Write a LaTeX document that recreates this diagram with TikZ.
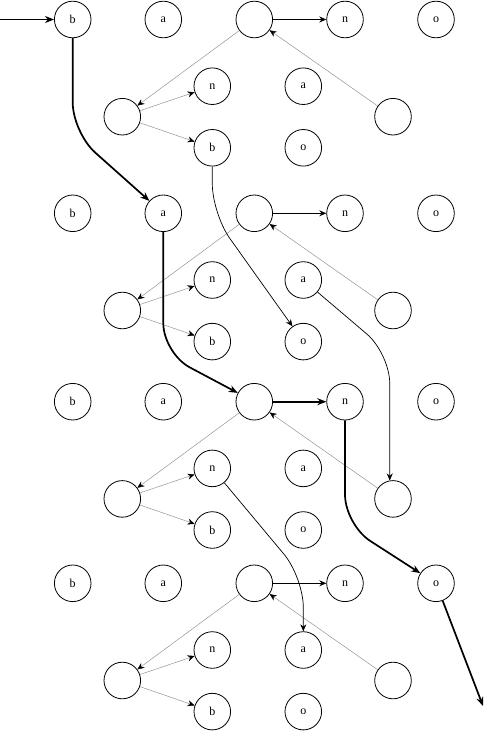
\documentclass[tikz,border=0pt]{standalone}
\usepackage{fontspec}
\setmainfont{Liberation Serif}
\usetikzlibrary{arrows.meta}

\begin{document}
\begin{tikzpicture}[
  x=1pt,y=-1pt,
  font=\fontsize{12}{14}\selectfont,
  >={Stealth[length=7pt,width=6pt]},
  state/.style={circle, draw=black, line width=0.8pt, minimum size=36.6pt, inner sep=0pt},
  link/.style={->, draw=black!45, line width=0.45pt, -{Stealth[length=7pt,width=6pt,black]}},
  hop/.style={->, draw=black, line width=0.9pt},
  walk/.style={draw=black, line width=0.7pt, rounded corners=30pt, -{Stealth[length=7pt,width=6pt]}},
  mainpath/.style={draw=black, line width=1.7pt, rounded corners=30pt, -{Stealth[length=9pt,width=7pt]}}
]
  \useasboundingbox (0,0) rectangle (487,731);

  % four copies of the same automaton
  \foreach \l/\y in {1/19.5, 2/213.3, 3/401.7, 4/583.3} {
    \node[state] (b\l) at (72.7,\y) {b};
    \node[state] (a\l) at (163.3,\y) {a};
    \node[state] (h\l) at (254.3,\y) {};
    \node[state] (n\l) at (345,\y) {n};
    \node[state] (o\l) at (436,\y) {o};
    \node[state] (nn\l) at (212.3,\y+66.7) {n};
    \node[state] (aa\l) at (303.3,\y+66.7) {a};
    \node[state] (l\l) at (122.3,\y+97.2) {};
    \node[state] (r\l) at (393,\y+97.2) {};
    \node[state] (bb\l) at (212.3,\y+128.3) {b};
    \node[state] (oo\l) at (303.3,\y+128.3) {o};

    \draw[link] (h\l) -- (l\l);
    \draw[link] (r\l) -- (h\l);
    \draw[link] (l\l) -- (nn\l);
    \draw[link] (l\l) -- (bb\l);
  }
  \foreach \l in {1,2,4}
    \draw[hop] (h\l) -- (n\l);

  % side walks
  \draw[walk] (bb1) -- ++(0,66) -- (oo2);
  \draw[walk] (aa2) -- ([yshift=127pt]r3.100) -- (r3.100);
  \draw[walk] (nn3) -- ([yshift=54pt]aa4.north) -- (aa4.north);

  % main path
  \coordinate (start) at (0,19.5);
  \coordinate (stop) at (483,706);
  \draw[mainpath] (start) -- (b1);
  \draw[mainpath] (b1) -- ++(0,113) -- (a2);
  \draw[mainpath] (a2) -- ++(0,140) -- (h3);
  \draw[mainpath] (h3) -- (n3);
  \draw[mainpath] (n3) -- ++(0,123) -- (o4);
  \draw[mainpath] (o4) -- (stop);
\end{tikzpicture}
\end{document}
